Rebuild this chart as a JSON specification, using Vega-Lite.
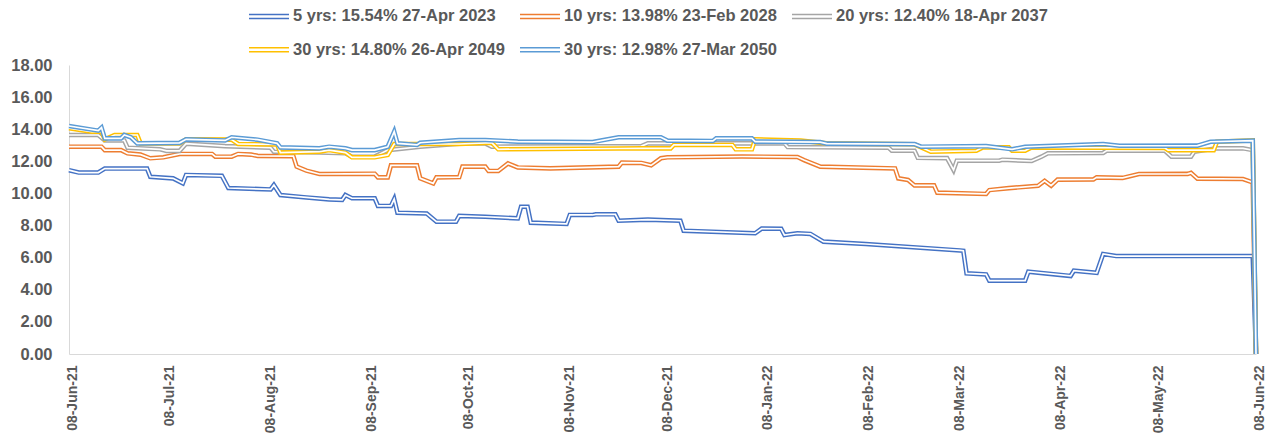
{
  "$schema": "https://vega.github.io/schema/vega-lite/v6.json",
  "width": 1187,
  "height": 289,
  "autosize": {"type": "none"},
  "padding": {"left": 69, "top": 65, "right": 13, "bottom": 81},
  "background": "white",
  "config": {"view": {"stroke": null}},
  "datasets": {
    "s5": [
      {"date": "2021-06-08", "yield": 11.45}, {"date": "2021-06-11", "yield": 11.3}, {"date": "2021-06-17", "yield": 11.3},
      {"date": "2021-06-19", "yield": 11.55}, {"date": "2021-07-02", "yield": 11.55}, {"date": "2021-07-03", "yield": 11.04},
      {"date": "2021-07-10", "yield": 10.94}, {"date": "2021-07-13", "yield": 10.63}, {"date": "2021-07-14", "yield": 11.15},
      {"date": "2021-07-25", "yield": 11.1}, {"date": "2021-07-27", "yield": 10.34}, {"date": "2021-08-09", "yield": 10.25},
      {"date": "2021-08-10", "yield": 10.52}, {"date": "2021-08-12", "yield": 9.9}, {"date": "2021-08-20", "yield": 9.75},
      {"date": "2021-08-27", "yield": 9.63}, {"date": "2021-08-31", "yield": 9.6}, {"date": "2021-09-01", "yield": 9.9},
      {"date": "2021-09-03", "yield": 9.7}, {"date": "2021-09-10", "yield": 9.7}, {"date": "2021-09-11", "yield": 9.22},
      {"date": "2021-09-15", "yield": 9.22}, {"date": "2021-09-16", "yield": 9.65}, {"date": "2021-09-17", "yield": 8.8},
      {"date": "2021-09-26", "yield": 8.75}, {"date": "2021-09-29", "yield": 8.24}, {"date": "2021-10-05", "yield": 8.24},
      {"date": "2021-10-06", "yield": 8.6}, {"date": "2021-10-14", "yield": 8.55}, {"date": "2021-10-24", "yield": 8.45},
      {"date": "2021-10-25", "yield": 9.17}, {"date": "2021-10-27", "yield": 9.17}, {"date": "2021-10-28", "yield": 8.18},
      {"date": "2021-11-08", "yield": 8.1}, {"date": "2021-11-09", "yield": 8.66}, {"date": "2021-11-16", "yield": 8.66},
      {"date": "2021-11-17", "yield": 8.7}, {"date": "2021-11-23", "yield": 8.7}, {"date": "2021-11-24", "yield": 8.3},
      {"date": "2021-12-03", "yield": 8.37}, {"date": "2021-12-13", "yield": 8.3}, {"date": "2021-12-14", "yield": 7.68},
      {"date": "2022-01-05", "yield": 7.52}, {"date": "2022-01-07", "yield": 7.81}, {"date": "2022-01-13", "yield": 7.8},
      {"date": "2022-01-14", "yield": 7.41}, {"date": "2022-01-18", "yield": 7.52}, {"date": "2022-01-22", "yield": 7.48},
      {"date": "2022-01-26", "yield": 7.0}, {"date": "2022-02-08", "yield": 6.85}, {"date": "2022-03-09", "yield": 6.45},
      {"date": "2022-03-10", "yield": 6.43}, {"date": "2022-03-11", "yield": 5.02}, {"date": "2022-03-17", "yield": 4.96},
      {"date": "2022-03-18", "yield": 4.57}, {"date": "2022-03-29", "yield": 4.57}, {"date": "2022-03-30", "yield": 5.13},
      {"date": "2022-04-12", "yield": 4.86}, {"date": "2022-04-13", "yield": 5.19}, {"date": "2022-04-20", "yield": 5.06},
      {"date": "2022-04-22", "yield": 6.23}, {"date": "2022-04-26", "yield": 6.1}, {"date": "2022-06-07", "yield": 6.1},
      {"date": "2022-06-08", "yield": 0}
    ],
    "s10": [
      {"date": "2021-06-08", "yield": 12.91}, {"date": "2021-06-18", "yield": 12.91}, {"date": "2021-06-19", "yield": 12.7},
      {"date": "2021-06-24", "yield": 12.7}, {"date": "2021-06-26", "yield": 12.5}, {"date": "2021-06-30", "yield": 12.42},
      {"date": "2021-07-03", "yield": 12.19}, {"date": "2021-07-07", "yield": 12.25}, {"date": "2021-07-12", "yield": 12.46},
      {"date": "2021-07-22", "yield": 12.46}, {"date": "2021-07-23", "yield": 12.29}, {"date": "2021-07-28", "yield": 12.29},
      {"date": "2021-07-30", "yield": 12.46}, {"date": "2021-08-03", "yield": 12.42}, {"date": "2021-08-05", "yield": 12.34},
      {"date": "2021-08-16", "yield": 12.32}, {"date": "2021-08-17", "yield": 11.67}, {"date": "2021-08-20", "yield": 11.42},
      {"date": "2021-08-24", "yield": 11.21}, {"date": "2021-09-10", "yield": 11.23}, {"date": "2021-09-11", "yield": 11.0},
      {"date": "2021-09-14", "yield": 11.0}, {"date": "2021-09-15", "yield": 11.75}, {"date": "2021-09-23", "yield": 11.75},
      {"date": "2021-09-24", "yield": 10.94}, {"date": "2021-09-28", "yield": 10.63}, {"date": "2021-09-29", "yield": 11.0},
      {"date": "2021-10-06", "yield": 11.02}, {"date": "2021-10-07", "yield": 11.67}, {"date": "2021-10-14", "yield": 11.67},
      {"date": "2021-10-15", "yield": 11.4}, {"date": "2021-10-18", "yield": 11.4}, {"date": "2021-10-21", "yield": 11.87},
      {"date": "2021-10-24", "yield": 11.62}, {"date": "2021-11-03", "yield": 11.56}, {"date": "2021-11-24", "yield": 11.67},
      {"date": "2021-11-25", "yield": 11.92}, {"date": "2021-12-01", "yield": 11.9}, {"date": "2021-12-04", "yield": 11.75},
      {"date": "2021-12-07", "yield": 12.19}, {"date": "2021-12-09", "yield": 12.25}, {"date": "2022-01-01", "yield": 12.3},
      {"date": "2022-01-18", "yield": 12.27}, {"date": "2022-01-20", "yield": 12.08}, {"date": "2022-01-25", "yield": 11.67},
      {"date": "2022-02-17", "yield": 11.56}, {"date": "2022-02-18", "yield": 10.94}, {"date": "2022-02-21", "yield": 10.84},
      {"date": "2022-02-23", "yield": 10.5}, {"date": "2022-03-01", "yield": 10.5}, {"date": "2022-03-02", "yield": 10.05},
      {"date": "2022-03-17", "yield": 9.97}, {"date": "2022-03-18", "yield": 10.21}, {"date": "2022-03-24", "yield": 10.33},
      {"date": "2022-04-02", "yield": 10.48}, {"date": "2022-04-04", "yield": 10.78}, {"date": "2022-04-06", "yield": 10.48},
      {"date": "2022-04-08", "yield": 10.86}, {"date": "2022-04-19", "yield": 10.87}, {"date": "2022-04-20", "yield": 11.0},
      {"date": "2022-04-28", "yield": 10.97}, {"date": "2022-05-03", "yield": 11.21}, {"date": "2022-05-18", "yield": 11.22},
      {"date": "2022-05-19", "yield": 11.28}, {"date": "2022-05-21", "yield": 10.92}, {"date": "2022-06-04", "yield": 10.9},
      {"date": "2022-06-07", "yield": 10.69}, {"date": "2022-06-08", "yield": 0}
    ],
    "s20": [
      {"date": "2021-06-08", "yield": 13.64}, {"date": "2021-06-17", "yield": 13.64}, {"date": "2021-06-19", "yield": 13.3},
      {"date": "2021-06-25", "yield": 13.3}, {"date": "2021-06-26", "yield": 12.85}, {"date": "2021-07-06", "yield": 12.75},
      {"date": "2021-07-08", "yield": 12.65}, {"date": "2021-07-12", "yield": 12.65}, {"date": "2021-07-14", "yield": 13.1},
      {"date": "2021-07-26", "yield": 12.95}, {"date": "2021-08-09", "yield": 12.85}, {"date": "2021-08-10", "yield": 12.6},
      {"date": "2021-08-24", "yield": 12.55}, {"date": "2021-09-01", "yield": 12.5}, {"date": "2021-09-03", "yield": 12.29},
      {"date": "2021-09-10", "yield": 12.29}, {"date": "2021-09-14", "yield": 12.7}, {"date": "2021-09-24", "yield": 12.91},
      {"date": "2021-10-07", "yield": 13.12}, {"date": "2021-10-14", "yield": 13.12}, {"date": "2021-10-16", "yield": 12.91},
      {"date": "2021-12-01", "yield": 12.95}, {"date": "2021-12-03", "yield": 13.12}, {"date": "2022-01-14", "yield": 13.12},
      {"date": "2022-01-15", "yield": 12.89}, {"date": "2022-02-15", "yield": 12.85}, {"date": "2022-02-16", "yield": 12.66},
      {"date": "2022-02-23", "yield": 12.66}, {"date": "2022-02-24", "yield": 12.22}, {"date": "2022-03-05", "yield": 12.2},
      {"date": "2022-03-07", "yield": 11.46}, {"date": "2022-03-08", "yield": 12.04}, {"date": "2022-03-21", "yield": 12.04},
      {"date": "2022-03-22", "yield": 12.1}, {"date": "2022-03-31", "yield": 12.02}, {"date": "2022-04-03", "yield": 12.29},
      {"date": "2022-04-05", "yield": 12.5}, {"date": "2022-04-22", "yield": 12.52}, {"date": "2022-04-23", "yield": 12.66},
      {"date": "2022-05-11", "yield": 12.66}, {"date": "2022-05-13", "yield": 12.29}, {"date": "2022-05-19", "yield": 12.29},
      {"date": "2022-05-20", "yield": 12.6}, {"date": "2022-05-27", "yield": 12.81}, {"date": "2022-06-04", "yield": 12.81},
      {"date": "2022-06-07", "yield": 12.7}, {"date": "2022-06-08", "yield": 0}
    ],
    "s30a": [
      {"date": "2021-06-08", "yield": 14.06}, {"date": "2021-06-15", "yield": 13.85}, {"date": "2021-06-18", "yield": 13.85},
      {"date": "2021-06-19", "yield": 13.37}, {"date": "2021-06-22", "yield": 13.64}, {"date": "2021-06-29", "yield": 13.64},
      {"date": "2021-06-30", "yield": 13.12}, {"date": "2021-07-12", "yield": 13.12}, {"date": "2021-07-14", "yield": 13.37},
      {"date": "2021-07-28", "yield": 13.35}, {"date": "2021-07-30", "yield": 13.08}, {"date": "2021-08-11", "yield": 13.05},
      {"date": "2021-08-12", "yield": 12.54}, {"date": "2021-08-24", "yield": 12.6}, {"date": "2021-08-27", "yield": 12.7},
      {"date": "2021-09-01", "yield": 12.54}, {"date": "2021-09-03", "yield": 12.25}, {"date": "2021-09-10", "yield": 12.25},
      {"date": "2021-09-14", "yield": 12.4}, {"date": "2021-09-16", "yield": 13.08}, {"date": "2021-10-06", "yield": 13.08},
      {"date": "2021-10-16", "yield": 13.16}, {"date": "2021-10-18", "yield": 12.75}, {"date": "2021-11-24", "yield": 12.8},
      {"date": "2021-12-01", "yield": 12.81}, {"date": "2021-12-10", "yield": 12.81}, {"date": "2021-12-11", "yield": 13.02},
      {"date": "2021-12-29", "yield": 13.02}, {"date": "2021-12-30", "yield": 12.75}, {"date": "2022-01-04", "yield": 12.75},
      {"date": "2022-01-05", "yield": 13.37}, {"date": "2022-01-19", "yield": 13.29}, {"date": "2022-01-27", "yield": 13.12},
      {"date": "2022-02-23", "yield": 13.06}, {"date": "2022-02-28", "yield": 12.6}, {"date": "2022-03-14", "yield": 12.66},
      {"date": "2022-03-16", "yield": 12.87}, {"date": "2022-03-24", "yield": 12.87}, {"date": "2022-03-25", "yield": 12.66},
      {"date": "2022-03-29", "yield": 12.66}, {"date": "2022-03-31", "yield": 12.87}, {"date": "2022-05-11", "yield": 12.83},
      {"date": "2022-05-12", "yield": 12.7}, {"date": "2022-05-26", "yield": 12.7}, {"date": "2022-05-27", "yield": 13.22},
      {"date": "2022-06-07", "yield": 13.3}, {"date": "2022-06-08", "yield": 0}
    ],
    "s30b": [
      {"date": "2021-06-08", "yield": 14.2}, {"date": "2021-06-17", "yield": 13.91}, {"date": "2021-06-18", "yield": 14.1},
      {"date": "2021-06-19", "yield": 13.43}, {"date": "2021-06-24", "yield": 13.43}, {"date": "2021-06-25", "yield": 13.64},
      {"date": "2021-06-27", "yield": 13.5}, {"date": "2021-06-29", "yield": 13.12}, {"date": "2021-07-12", "yield": 13.15},
      {"date": "2021-07-14", "yield": 13.37}, {"date": "2021-07-26", "yield": 13.3}, {"date": "2021-07-28", "yield": 13.5},
      {"date": "2021-08-05", "yield": 13.35}, {"date": "2021-08-11", "yield": 13.12}, {"date": "2021-08-12", "yield": 12.87},
      {"date": "2021-08-24", "yield": 12.81}, {"date": "2021-08-27", "yield": 12.91}, {"date": "2021-09-01", "yield": 12.81},
      {"date": "2021-09-03", "yield": 12.7}, {"date": "2021-09-10", "yield": 12.7}, {"date": "2021-09-14", "yield": 12.91},
      {"date": "2021-09-16", "yield": 13.85}, {"date": "2021-09-17", "yield": 13.12}, {"date": "2021-09-23", "yield": 13.02},
      {"date": "2021-09-24", "yield": 13.16}, {"date": "2021-10-06", "yield": 13.33}, {"date": "2021-10-14", "yield": 13.33},
      {"date": "2021-10-24", "yield": 13.23}, {"date": "2021-11-16", "yield": 13.2}, {"date": "2021-11-24", "yield": 13.5},
      {"date": "2021-12-07", "yield": 13.5}, {"date": "2021-12-09", "yield": 13.29}, {"date": "2021-12-23", "yield": 13.27},
      {"date": "2021-12-24", "yield": 13.43}, {"date": "2022-01-04", "yield": 13.43}, {"date": "2022-01-05", "yield": 13.23},
      {"date": "2022-01-25", "yield": 13.2}, {"date": "2022-01-27", "yield": 13.1}, {"date": "2022-02-23", "yield": 13.07},
      {"date": "2022-02-25", "yield": 12.91}, {"date": "2022-03-17", "yield": 12.95}, {"date": "2022-03-25", "yield": 12.75},
      {"date": "2022-03-29", "yield": 12.91}, {"date": "2022-04-22", "yield": 13.08}, {"date": "2022-04-27", "yield": 12.97},
      {"date": "2022-05-21", "yield": 12.98}, {"date": "2022-05-25", "yield": 13.22}, {"date": "2022-06-07", "yield": 13.29},
      {"date": "2022-06-08", "yield": 0}
    ]
  },
  "encoding": {
    "x": {
      "field": "date",
      "type": "temporal",
      "scale": {
        "type": "utc",
        "domain": [
          {"year": 2021, "month": 6, "date": 8, "utc": true},
          {"year": 2022, "month": 6, "date": 8, "utc": true}
        ]
      },
      "axis": {
        "title": null,
        "grid": false,
        "ticks": false,
        "tickSize": 0,
        "domainColor": "#D9D9D9",
        "domainWidth": 1,
        "labelExpr": "utcFormat(datum.value, '%d-%b-%y')",
        "labelAngle": 270,
        "labelAlign": "right",
        "labelBaseline": "middle",
        "labelPadding": 11,
        "labelOffset": 3,
        "labelOverlap": false,
        "labelFont": "Liberation Sans",
        "labelFontWeight": "bold",
        "labelFontSize": 14,
        "labelColor": "#595959",
        "values": [
          {"year": 2021, "month": 6, "date": 8, "utc": true},
          {"year": 2021, "month": 7, "date": 8, "utc": true},
          {"year": 2021, "month": 8, "date": 8, "utc": true},
          {"year": 2021, "month": 9, "date": 8, "utc": true},
          {"year": 2021, "month": 10, "date": 8, "utc": true},
          {"year": 2021, "month": 11, "date": 8, "utc": true},
          {"year": 2021, "month": 12, "date": 8, "utc": true},
          {"year": 2022, "month": 1, "date": 8, "utc": true},
          {"year": 2022, "month": 2, "date": 8, "utc": true},
          {"year": 2022, "month": 3, "date": 8, "utc": true},
          {"year": 2022, "month": 4, "date": 8, "utc": true},
          {"year": 2022, "month": 5, "date": 8, "utc": true},
          {"year": 2022, "month": 6, "date": 8, "utc": true}
        ]
      }
    },
    "y": {
      "field": "yield",
      "type": "quantitative",
      "scale": {"domain": [0, 18], "nice": false},
      "axis": {
        "title": null,
        "grid": false,
        "ticks": false,
        "tickSize": 0,
        "domainColor": "#D9D9D9",
        "domainWidth": 1,
        "values": [0, 2, 4, 6, 8, 10, 12, 14, 16, 18],
        "format": ".2f",
        "labelPadding": 17,
        "labelFont": "Liberation Sans",
        "labelFontWeight": "bold",
        "labelFontSize": 16.5,
        "labelColor": "#595959"
      }
    }
  },
  "layer": [
    {
      "data": {"name": "s5"},
      "mark": {"type": "line", "strokeWidth": 4.6, "strokeCap": "butt"},
      "encoding": {
        "color": {
          "datum": "5 yrs: 15.54% 27-Apr 2023",
          "type": "nominal",
          "scale": {
            "domain": [
              "5 yrs: 15.54% 27-Apr 2023",
              "10 yrs: 13.98% 23-Feb 2028",
              "20 yrs: 12.40% 18-Apr 2037",
              "30 yrs: 14.80% 26-Apr 2049",
              "30 yrs: 12.98% 27-Mar 2050"
            ],
            "range": ["#4472C4", "#ED7D31", "#A5A5A5", "#FFC000", "#5B9BD5"]
          },
          "legend": {
            "title": null,
            "orient": "none",
            "direction": "horizontal",
            "legendX": 180,
            "legendY": -57,
            "columns": 3,
            "columnPadding": 12,
            "rowPadding": 16.5,
            "padding": 0,
            "symbolType": "M-1.65,-0.4H6.35M-1.65,0.4H6.35",
            "symbolSize": 100,
            "symbolStrokeWidth": 1.5,
            "labelOffset": 27.5,
            "labelFont": "Liberation Sans",
            "labelFontWeight": "bold",
            "labelFontSize": 16.5,
            "labelColor": "#595959",
            "labelLimit": 400
          }
        }
      }
    },
    {"data": {"name": "s5"}, "mark": {"type": "line", "strokeWidth": 1.7, "color": "white", "strokeCap": "butt"}, "encoding": {}},
    {"data": {"name": "s10"}, "mark": {"type": "line", "strokeWidth": 4.6, "strokeCap": "butt"}, "encoding": {"color": {"datum": "10 yrs: 13.98% 23-Feb 2028", "type": "nominal"}}},
    {"data": {"name": "s10"}, "mark": {"type": "line", "strokeWidth": 1.7, "color": "white", "strokeCap": "butt"}, "encoding": {}},
    {"data": {"name": "s20"}, "mark": {"type": "line", "strokeWidth": 4.6, "strokeCap": "butt"}, "encoding": {"color": {"datum": "20 yrs: 12.40% 18-Apr 2037", "type": "nominal"}}},
    {"data": {"name": "s20"}, "mark": {"type": "line", "strokeWidth": 1.7, "color": "white", "strokeCap": "butt"}, "encoding": {}},
    {"data": {"name": "s30a"}, "mark": {"type": "line", "strokeWidth": 4.6, "strokeCap": "butt"}, "encoding": {"color": {"datum": "30 yrs: 14.80% 26-Apr 2049", "type": "nominal"}}},
    {"data": {"name": "s30a"}, "mark": {"type": "line", "strokeWidth": 1.7, "color": "white", "strokeCap": "butt"}, "encoding": {}},
    {"data": {"name": "s30b"}, "mark": {"type": "line", "strokeWidth": 4.6, "strokeCap": "butt"}, "encoding": {"color": {"datum": "30 yrs: 12.98% 27-Mar 2050", "type": "nominal"}}},
    {"data": {"name": "s30b"}, "mark": {"type": "line", "strokeWidth": 1.7, "color": "white", "strokeCap": "butt"}, "encoding": {}}
  ]
}
